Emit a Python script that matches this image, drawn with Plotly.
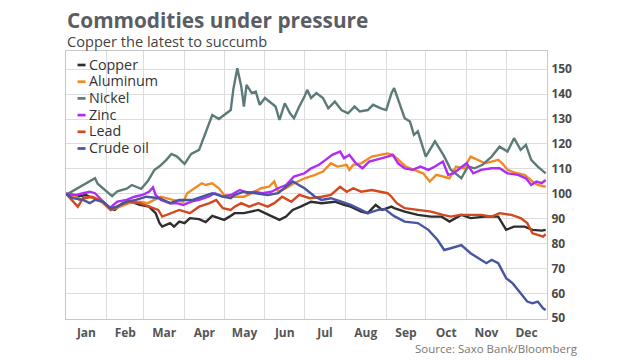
import pandas as pd
import plotly.graph_objects as go

# ---- data (day offset from 1 Jan 2014, index value rebased to 100) ----
copper_days = [0, 8, 15, 24, 27, 33, 37, 43, 49, 56, 63, 68, 71, 73, 79, 82, 86, 90, 94, 101, 106, 111, 116, 120, 124, 128, 135, 141, 146, 151, 157, 162, 167, 172, 178, 186, 194, 204, 211, 216, 224, 229, 235, 240, 247, 249, 257, 267, 277, 285, 291, 300, 307, 318, 328, 334, 340, 348, 354, 361, 364]
copper_vals = [100, 98.8, 99.5, 97.5, 96.8, 94.2, 93.5, 96.2, 96.8, 95.5, 94.8, 92.2, 88.2, 86.8, 88.2, 86.8, 88.8, 88.2, 90.2, 89.8, 88.6, 91.1, 90.2, 89.5, 90.8, 92.2, 92.2, 92.8, 93.5, 92.2, 90.8, 89.5, 90.8, 93.5, 94.8, 96.8, 96.2, 96.8, 95.5, 94.8, 92.8, 92.2, 95.5, 93.5, 94.8, 94.2, 92.8, 91.5, 90.8, 90.8, 88.8, 91.5, 90.2, 90.8, 90.8, 85.5, 86.8, 86.8, 85.5, 85.2, 85.5]

aluminum_days = [0, 8, 10, 18, 25, 34, 41, 48, 56, 62, 67, 72, 81, 89, 92, 98, 103, 106, 111, 116, 120, 127, 135, 141, 148, 154, 158, 161, 167, 173, 181, 189, 195, 201, 206, 213, 215, 218, 224, 232, 239, 244, 248, 252, 258, 264, 271, 276, 281, 286, 291, 296, 302, 307, 312, 318, 323, 328, 331, 335, 342, 348, 354, 358, 364]
aluminum_vals = [100, 98.8, 97.5, 98.8, 97.5, 93.5, 94.8, 96.2, 96.8, 96.2, 97.5, 98.8, 97.5, 96.8, 100.2, 102.2, 104.2, 103.5, 104.2, 102.2, 99.5, 98.8, 98.8, 100.2, 102.2, 102.8, 104.9, 100.8, 102.2, 104.2, 106.2, 107.6, 108.9, 112.2, 110.9, 111.6, 109.6, 111.6, 112.2, 114.9, 115.6, 116.2, 115.6, 113.6, 110.9, 109.6, 108.2, 104.9, 107.6, 106.9, 106.2, 110.9, 110.2, 114.9, 113.6, 112.2, 112.9, 113.6, 112.2, 109.6, 108.2, 107.6, 104.9, 103.5, 102.8]

nickel_days = [0, 15, 22, 24, 31, 35, 39, 46, 50, 57, 62, 67, 71, 76, 80, 84, 90, 95, 101, 108, 111, 116, 120, 125, 127, 130, 133, 135, 137, 141, 144, 147, 151, 156, 159, 162, 166, 170, 173, 177, 181, 183, 186, 190, 195, 199, 204, 209, 214, 219, 223, 229, 233, 239, 243, 247, 249, 257, 261, 264, 267, 273, 280, 284, 287, 292, 300, 305, 310, 316, 323, 329, 335, 340, 345, 349, 353, 358, 364]
nickel_vals = [99.5, 104, 106.2, 104, 101, 99, 101, 102, 103.5, 102, 105, 109.5, 111, 113.5, 116, 115, 112, 116, 117.6, 127, 131.6, 130, 131.6, 133.6, 142, 150.4, 143, 135, 143.7, 140.4, 141, 135.7, 138.4, 136.3, 135, 129.6, 136.3, 132.3, 130.3, 135, 139, 141.7, 138.4, 140.4, 138.4, 134.3, 137, 133.6, 132.3, 135, 133, 133.6, 135.7, 134.3, 133.6, 140.4, 142.4, 130.3, 129, 123.6, 125, 114.9, 121, 117.6, 115, 109.6, 106.2, 111, 110.2, 111.6, 114.9, 118.9, 116.9, 122.3, 117.6, 119.6, 113.6, 110.9, 108.2]

zinc_days = [0, 8, 13, 18, 22, 28, 33, 39, 46, 52, 58, 63, 66, 68, 72, 79, 84, 89, 95, 101, 108, 113, 119, 125, 132, 138, 143, 149, 156, 161, 167, 173, 181, 186, 192, 197, 202, 208, 211, 215, 220, 225, 230, 235, 240, 244, 248, 252, 257, 263, 269, 275, 280, 286, 290, 294, 299, 304, 309, 315, 323, 329, 335, 343, 349, 353, 357, 361, 364]
zinc_vals = [100, 99.5, 100.2, 100.8, 100.2, 96.8, 94.2, 96.8, 97.5, 98.8, 99.5, 100.8, 102.6, 99.5, 97.5, 96.2, 96.2, 95.5, 96.8, 97.5, 98.8, 100.2, 98.8, 99.5, 101.5, 100.2, 100.8, 100.2, 100.8, 102.2, 103.5, 106.9, 108.2, 110.2, 111.6, 113.6, 115.6, 116.9, 114.2, 115.6, 112.2, 110.2, 112.9, 113.6, 114.2, 114.9, 115.6, 112.2, 110.2, 109.6, 110.9, 109.6, 110.9, 112.9, 107.6, 108.2, 110.2, 112.2, 108.2, 109.6, 110.2, 110.2, 108.2, 107.6, 106.2, 103.5, 104.9, 104.2, 105.5]

lead_days = [0, 9, 13, 20, 28, 34, 41, 48, 56, 63, 70, 73, 80, 86, 94, 101, 109, 114, 119, 125, 128, 133, 139, 146, 153, 158, 164, 171, 177, 185, 194, 201, 208, 213, 218, 224, 232, 239, 244, 247, 251, 257, 267, 277, 286, 292, 299, 307, 315, 323, 329, 338, 345, 350, 354, 358, 362, 364]
lead_vals = [100, 94.8, 98.2, 98.8, 96.8, 93.5, 95.5, 96.8, 96.2, 94.8, 93.5, 90.8, 92.2, 93.5, 92.2, 94.8, 96.2, 97.5, 94.2, 93.5, 94.8, 96.2, 94.8, 96.2, 94.8, 96.2, 98.8, 96.8, 99.5, 98.2, 98.8, 99.5, 102.8, 100.8, 102.2, 100.8, 101.5, 100.8, 100.2, 98.8, 96.2, 94.2, 93.5, 92.8, 91.5, 90.8, 91.5, 91.5, 91.5, 90.8, 92.2, 91.5, 90.2, 88.2, 84.1, 83.5, 82.8, 83.8]

crude_days = [0, 5, 13, 18, 22, 28, 34, 39, 46, 53, 61, 71, 79, 86, 96, 104, 111, 119, 125, 128, 135, 144, 153, 161, 170, 172, 181, 189, 194, 201, 209, 216, 224, 229, 237, 242, 249, 257, 267, 275, 282, 287, 292, 300, 307, 315, 319, 323, 328, 334, 339, 345, 350, 354, 358, 362, 364]
crude_vals = [100, 98.2, 97.5, 96.2, 97.5, 96.8, 94.2, 94.8, 96.8, 97.5, 98.8, 98.2, 96.2, 97.5, 97.5, 98.8, 100.2, 98.8, 98.2, 99.5, 100.8, 100.2, 99.5, 100.2, 104.2, 104.9, 102.2, 98.8, 97.5, 98.2, 96.8, 95.5, 93.5, 92.2, 93.5, 93.8, 91, 88.8, 88.2, 85.5, 81.4, 77.4, 78.1, 79.4, 76.1, 73.4, 72.1, 73.4, 72.1, 66.1, 64, 60, 56.7, 56, 56.7, 54, 53.3]

series_names = ["Copper", "Aluminum", "Nickel", "Zinc", "Lead", "Crude oil"]
series_colors = ["#2e2e2e", "#f28a24", "#5c7b78", "#b02cf5", "#d34820", "#4a55a2"]
series_days = [copper_days, aluminum_days, nickel_days, zinc_days, lead_days, crude_days]
series_vals = [copper_vals, aluminum_vals, nickel_vals, zinc_vals, lead_vals, crude_vals]

title_text = "Commodities under pressure"
subtitle_text = "Copper the latest to succumb"
source_text = "Source: Saxo Bank/Bloomberg"
y_ticks = [50, 60, 70, 80, 90, 100, 110, 120, 130, 140, 150]

start = pd.Timestamp("2014-01-01")
fig = go.Figure()
for name, color, days, vals in zip(series_names, series_colors, series_days, series_vals):
    dates = start + pd.to_timedelta(days, unit="D")
    fig.add_trace(go.Scatter(x=dates, y=vals, mode="lines", name=name,
                             line=dict(color=color, width=2.4), showlegend=False))

FONT = "Open Sans"
PH = 268.0  # plot height in px
PW = 480.0  # plot width in px
annotations = [
    dict(text=f"<b>{title_text}</b>", xref="paper", yref="paper", x=-0.002, y=1 + 31 / PH,
         xanchor="left", yanchor="middle", showarrow=False,
         font=dict(family=FONT, size=20.8, color="#5a5e64")),
    dict(text=subtitle_text, xref="paper", yref="paper", x=-0.002, y=1 + 10 / PH,
         xanchor="left", yanchor="middle", showarrow=False,
         font=dict(family=FONT, size=14.6, color="#444444")),
    dict(text=source_text, xref="paper", yref="paper", x=1.068, y=-29 / PH,
         xanchor="right", yanchor="middle", showarrow=False,
         font=dict(family=FONT, size=11.5, color="#777777")),
]
shapes = []
# legend drawn inside the plot: short coloured dash + label per series
for i, (name, color) in enumerate(zip(series_names, series_colors)):
    row = 1 - (14 + 16.7 * i) / PH
    shapes.append(dict(type="line", xref="paper", yref="paper",
                       x0=11.5 / PW, x1=19.5 / PW, y0=row, y1=row,
                       line=dict(color=color, width=2.7)))
    annotations.append(dict(
        text=name, xref="paper", yref="paper", x=20.5 / PW, y=row + 1 / PH,
        xanchor="left", yanchor="middle", showarrow=False,
        font=dict(family=FONT, size=14.3, color="#333333")))

# page body adds an 8px offset, so the figure is laid out 8px up/left
fig.update_layout(
    width=632, height=352,
    margin=dict(l=58, r=93, t=43, b=41, pad=0),
    paper_bgcolor="white", plot_bgcolor="white",
    font=dict(family=FONT, color="#555555"),
    annotations=annotations, shapes=shapes,
    xaxis=dict(type="date", range=["2014-01-01", "2015-01-01"],
               dtick="M1", tickformat="%b", ticklabelmode="period",
               showgrid=True, gridcolor="#dddddd", gridwidth=1,
               showline=True, linecolor="#c8c8c8", linewidth=1, mirror=True,
               ticks="", ticklabelstandoff=3,
               tickfont=dict(family=FONT, size=12, color="#555555", weight="bold"),
               zeroline=False, automargin=False),
    yaxis=dict(range=[49.7, 157.3], side="right", tickvals=y_ticks,
               showgrid=True, gridcolor="#dddddd", gridwidth=1,
               showline=True, linecolor="#c8c8c8", linewidth=1, mirror=True,
               ticks="", ticklabelstandoff=1,
               tickfont=dict(family=FONT, size=12, color="#4a4a4a", weight="bold"),
               zeroline=False, automargin=False),
)

fig.write_html("out.html")
